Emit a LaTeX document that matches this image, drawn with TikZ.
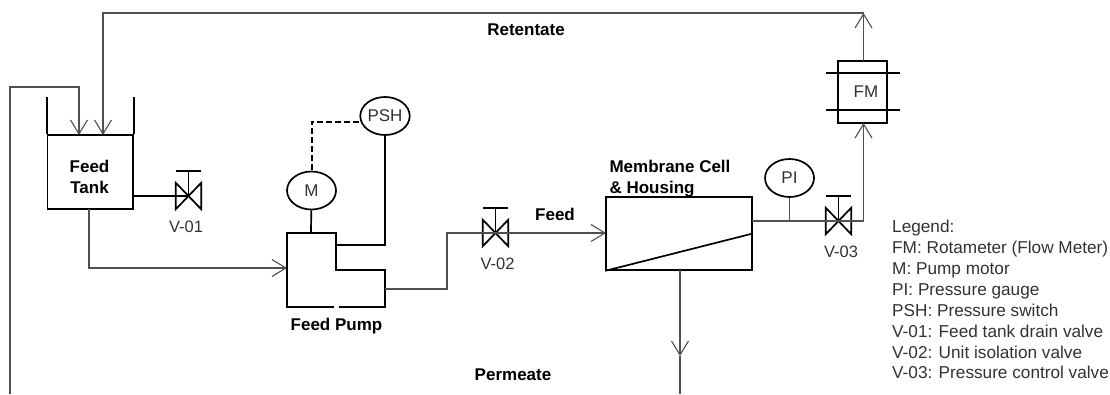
\documentclass[tikz,border=0pt]{standalone}
\usepackage{fontspec}
\setmainfont{Liberation Sans}
\usetikzlibrary{arrows.meta, shapes.geometric}
\definecolor{pipegray}{RGB}{80, 80, 80}
\definecolor{labelgray}{RGB}{50, 50, 50}
\tikzset{
    pipe/.style={color=pipegray, line width=1.1pt},
    flow/.style={pipe, -{Straight Barb[length=14pt, width=17pt, line width=1.1pt]}},
    equip/.style={draw=black, line width=1.7pt},
    gauge/.style={equip, ellipse, minimum width=49pt, minimum height=38pt, inner sep=0pt, text=labelgray, font=\fontsize{17}{17}\selectfont},
    tag/.style={text=labelgray, font=\fontsize{16.5}{16.5}\selectfont},
    title/.style={font=\fontsize{17}{21}\selectfont\bfseries, align=left},
    valvebox/.style={minimum width=25pt, minimum height=26pt, inner sep=0pt}
}
% valve symbol: name, x, y
\newcommand{\valvesym}[3]{
    \node[valvebox] (#1) at (#2,#3) {};
    \draw[equip, line join=miter] (#1.north west) -- (#1.south east) -- (#1.north east) -- (#1.south west) -- cycle;
    \node[coordinate] (#1top) at (#2,#3-25) {};
    \draw[equip] (#1.center) -- (#1top);
    \draw[equip] (#2-12.5,#3-25) -- (#2+12.5,#3-25);
}
\begin{document}
\begin{tikzpicture}[x=1pt, y=-1pt]
    \useasboundingbox (0,0) rectangle (1110,394);
    % tank
    \node[equip, minimum width=85.5pt, minimum height=74pt, inner sep=0pt] (tank) at (90.25,172) {};
    \node[title, align=center] (tanklabel) at (89.5,177) {Feed\\Tank};
    \draw[equip] (tank.north west) -- +(0,-37);
    \draw[equip] (tank.north east) -- +(0,-37);
    % pump
    \draw[equip, line join=miter] (334,307) -- (287,307) -- (287,233) -- (336,233) -- (336,270) -- (385,270) -- (385,307) -- (339,307);
    \node[coordinate] (pumpin) at (287,268) {};
    \node[coordinate] (pumptop) at (311,233) {};
    \node[coordinate] (pumpside) at (336,245) {};
    \node[coordinate] (pumpout) at (385,289) {};
    \node[title] (pumplabel) at (336.5,326) {Feed Pump};
    % instruments
    \node[gauge] (motor) at (311.5,190.5) {M};
    \node[gauge] (psh) at (385,116) {PSH};
    \node[gauge] (pi) at (789.5,178) {PI};
    % valves
    \valvesym{vone}{188.5}{196}
    \valvesym{vtwo}{495.5}{233}
    \valvesym{vthree}{838.5}{221}
    \node[tag] (vonelabel) at (186,227) {V-01};
    \node[tag] (vtwolabel) at (497.5,264) {V-02};
    \node[tag] (vthreelabel) at (841,252) {V-03};
    % membrane
    \node[equip, minimum width=146pt, minimum height=73pt, inner sep=0pt] (cell) at (679,233.5) {};
    \draw[equip] (cell.south west) -- (cell.east);
    \node[title, anchor=south west] (celllabel) at (606,201) {Membrane Cell\\\& Housing};
    % rotameter
    \node[equip, minimum width=49pt, minimum height=62pt, inner sep=0pt] (fm) at (862.5,92) {};
    \node[tag, font=\fontsize{17}{17}\selectfont] (fmlabel) at (866,92) {FM};
    \draw[equip] (826,73) -- (900,73);
    \draw[equip] (826,110) -- (900,110);
    % pipe points
    \node[coordinate] (retcorner) at (863.5,13) {};
    \node[coordinate] (rettank) at (103,135) {};
    \node[coordinate] (rectank) at (79,135) {};
    \node[coordinate] (recend) at (10,394) {};
    \node[coordinate] (tankout) at (89,209) {};
    \node[coordinate] (cellin) at (606,233) {};
    \node[coordinate] (cellout) at (752,221) {};
    \node[coordinate] (fmin) at (863.5,123) {};
    \node[coordinate] (fmout) at (863.5,61) {};
    \node[coordinate] (permout) at (680,270) {};
    \node[coordinate] (permarrow) at (680,356) {};
    \node[coordinate] (permend) at (680,394) {};
    % pipes
    \draw[flow] (fmout) -- (retcorner);
    \draw[flow] (retcorner) -| (rettank);
    \draw[flow] (recend) |- (79,87) -- (rectank);
    \draw[flow] (tankout) |- (pumpin);
    \draw[pipe] (pumpout) -| (447,233) -- (vtwo.center);
    \draw[flow] (vtwo.center) -- (cellin);
    \draw[pipe] (cellout) -- (vthree.center);
    \draw[flow] (vthree.center) -| (fmin);
    \draw[flow] (permout) -- (permarrow);
    \draw[pipe] (permarrow) -- (permend);
    % instrument lines
    \draw[equip] (tank.east |- vone) -- (vone.center);
    \draw[equip] (motor) -- (pumptop);
    \draw[equip] (psh) |- (pumpside);
    \draw[equip, line width=2pt, dash pattern=on 6pt off 3pt] (psh.west |- 0,122) -| (motor);
    \draw[pipe, line width=1.7pt] (pi) -- (pi |- cellout);
    % labels
    \node[title] (retlabel) at (526,30) {Retentate};
    \node[title] (feedlabel) at (555,214) {Feed};
    \node[title] (permlabel) at (513,375) {Permeate};
    \node[anchor=north west, align=left, inner sep=0pt, text=labelgray, font=\fontsize{17.2}{20.9}\selectfont] (legend) at (892,220) {Legend:\\FM: Rotameter (Flow Meter)\\M: Pump motor\\PI: Pressure gauge\\PSH: Pressure switch\\V-01: Feed tank drain valve\\V-02: Unit isolation valve\\V-03: Pressure control valve};
\end{tikzpicture}
\end{document}
